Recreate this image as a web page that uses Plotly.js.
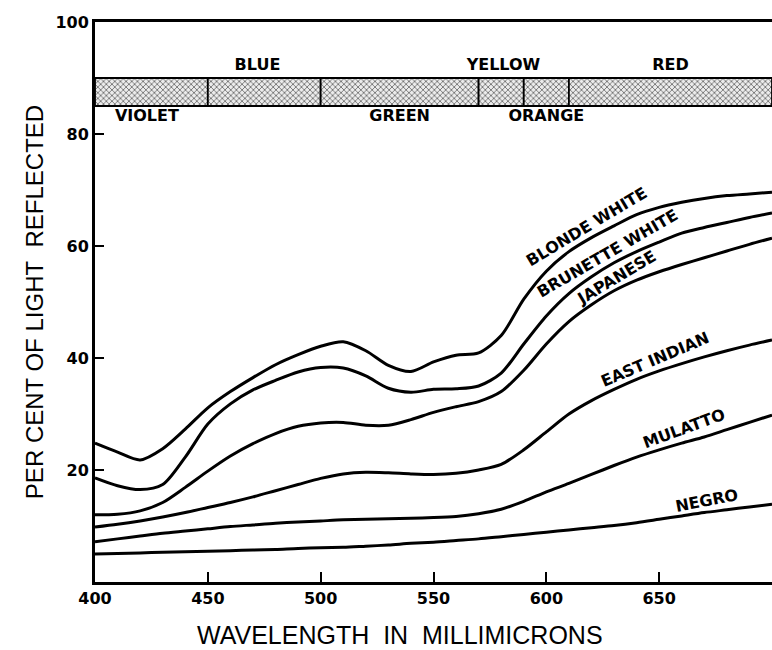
<!DOCTYPE html>
<html>
<head>
<meta charset="utf-8">
<script src="https://cdn.plot.ly/plotly-3.0.1.min.js"></script>
<style>html,body{margin:0;padding:0;background:#fff;}#chart{width:772px;height:650px;}</style>
</head>
<body>
<div id="chart"></div>
<script>
// ---- data ----
const wavelength = [400,410,420,430,440,450,460,470,480,490,500,510,520,530,540,550,560,570,580,590,600,610,620,630,640,650,660,670,680,690,700];
const blondeWhite   = [24.8,23.2,21.8,23.8,27.3,31.1,34.0,36.5,38.8,40.6,42.1,42.9,41.3,38.7,37.6,39.3,40.5,40.9,44.0,50.5,55.5,59.0,61.5,63.6,65.6,66.9,67.8,68.5,69.0,69.3,69.6];
const brunetteWhite = [18.6,17.2,16.5,17.4,22.3,28.2,31.8,34.3,36.0,37.5,38.3,38.2,36.8,34.6,33.9,34.4,34.5,35.0,37.3,42.5,47.5,51.5,54.5,57.0,59.0,60.7,62.3,63.3,64.2,65.1,65.9];
const japanese      = [12.0,12.1,12.7,14.2,16.9,19.8,22.5,24.7,26.5,27.8,28.4,28.5,28.0,28.0,29.0,30.3,31.3,32.2,34.0,37.8,42.5,46.5,49.5,52.0,53.9,55.4,56.7,57.9,59.1,60.3,61.4];
const eastIndian    = [9.8,10.3,10.9,11.6,12.4,13.3,14.2,15.2,16.3,17.4,18.5,19.3,19.6,19.5,19.3,19.2,19.4,20.0,21.0,23.6,26.8,30.0,32.4,34.4,36.2,37.7,39.0,40.2,41.3,42.3,43.2];
const mulatto       = [7.2,7.7,8.2,8.7,9.1,9.5,9.9,10.2,10.5,10.7,10.9,11.1,11.2,11.3,11.4,11.5,11.7,12.2,13.0,14.4,16.1,17.6,19.2,20.8,22.3,23.6,24.8,25.9,27.2,28.5,29.8];
const negro         = [5.0,5.1,5.2,5.3,5.4,5.5,5.6,5.7,5.8,6.0,6.1,6.2,6.4,6.6,6.9,7.1,7.4,7.7,8.1,8.5,8.9,9.3,9.7,10.1,10.6,11.2,11.8,12.4,12.9,13.4,13.9];

const curveNames   = ['BLONDE WHITE','BRUNETTE WHITE','JAPANESE','EAST INDIAN','MULATTO','NEGRO'];
const curveLabelX  = [618, 627, 631, 648, 661, 671];
const curveLabelY  = [63.4, 58.6, 54.4, 39.8, 27.4, 14.6];
const curveLabelAngle = [-31, -30, -31, -23, -20, -11];

// spectrum band
const bandEdges  = [400,450,500,570,590,610,700];
const bandBottom = 85;
const bandTop    = 90;
const bandLabels = ['VIOLET','BLUE','GREEN','YELLOW','ORANGE','RED'];
const bandLabelX = [423, 472, 535, 581, 600, 655];
const bandLabelY = [83.0, 92.2, 83.0, 92.2, 83.0, 92.2];

const xTicks = [400,450,500,550,600,650];
const yTicks = [20,40,60,80,100];

const xTitle = 'WAVELENGTH&nbsp; IN&nbsp; MILLIMICRONS';
const yTitle = 'PER CENT OF LIGHT&nbsp; REFLECTED';

// ---- build ----
const series = [blondeWhite, brunetteWhite, japanese, eastIndian, mulatto, negro];
const traces = [];

const bandCenters = [], bandWidths = [], bandHeights = [];
for (let i = 0; i < bandEdges.length - 1; i++) {
  bandCenters.push((bandEdges[i] + bandEdges[i+1]) / 2);
  bandWidths.push(bandEdges[i+1] - bandEdges[i]);
  bandHeights.push(bandTop - bandBottom);
}
traces.push({
  type: 'bar', x: bandCenters, y: bandHeights, base: bandBottom, width: bandWidths,
  marker: {
    color: '#e0e0e0',
    line: {color: '#000', width: 1.8},
    pattern: {shape: 'x', size: 4, solidity: 0.3, fgcolor: '#444', bgcolor: '#ececec'}
  },
  hoverinfo: 'skip', showlegend: false
});

series.forEach((s, i) => {
  traces.push({
    type: 'scatter', mode: 'lines', x: wavelength, y: s, name: curveNames[i],
    line: {color: '#000', width: 3, shape: 'spline', smoothing: 0.8},
    hoverinfo: 'skip', showlegend: false
  });
});

traces.push({
  type: 'scatter', mode: 'text', x: bandLabelX, y: bandLabelY, text: bandLabels,
  textfont: {family: 'DejaVu Sans', size: 16, color: '#000', weight: 'bold'},
  textposition: 'middle center', hoverinfo: 'skip', showlegend: false, cliponaxis: false
});

const annotations = curveNames.map((n, i) => ({
  x: curveLabelX[i], y: curveLabelY[i], xref: 'x', yref: 'y', text: n,
  showarrow: false, textangle: curveLabelAngle[i],
  font: {family: 'DejaVu Sans', size: 16, color: '#000', weight: 'bold'}
}));
annotations.push({
  x: 0.4505, y: -0.0946, xref: 'paper', yref: 'paper', xanchor: 'center', yanchor: 'middle',
  text: xTitle, showarrow: false,
  font: {family: 'Liberation Sans', size: 25, color: '#000'}
});

const layout = {
  width: 772, height: 650,
  margin: {l: 95, r: 0, t: 22, b: 68, pad: 0},
  paper_bgcolor: '#fff', plot_bgcolor: '#fff',
  showlegend: false, hovermode: false,
  xaxis: {
    range: [400, 700], tickvals: xTicks, ticktext: xTicks.map(String),
    ticks: 'inside', ticklen: 10, tickwidth: 2, tickcolor: '#000',
    showline: true, linecolor: '#000', linewidth: 3, mirror: true,
    showgrid: false, zeroline: false,
    tickfont: {family: 'DejaVu Sans', size: 16, color: '#000', weight: 'bold'}
  },
  yaxis: {
    range: [0, 100], tickvals: yTicks, ticktext: yTicks.map(String),
    ticks: 'inside', ticklen: 9, tickwidth: 2.5, tickcolor: '#000',
    showline: true, linecolor: '#000', linewidth: 3,
    showgrid: false, zeroline: false,
    tickfont: {family: 'DejaVu Sans', size: 16, color: '#000', weight: 'bold'},
    title: {text: yTitle, standoff: 5,
            font: {family: 'Liberation Sans', size: 24, color: '#000'}}
  },
  annotations: annotations
};

Plotly.newPlot('chart', traces, layout, {displayModeBar: false, staticPlot: true});
</script>
</body>
</html>
